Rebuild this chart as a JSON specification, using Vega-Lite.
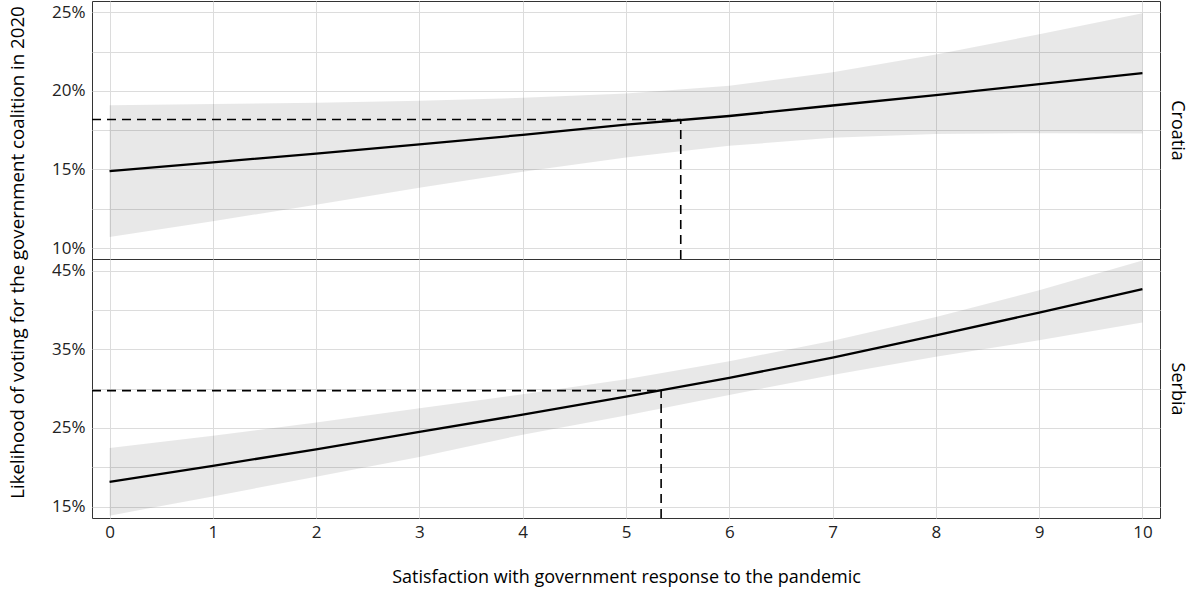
{
  "$schema": "https://vega.github.io/schema/vega-lite/v6.json",
  "background": "white",
  "padding": {"left": 9, "top": 0, "right": 28, "bottom": 2},
  "config": {
    "font": "Open Sans",
    "view": {"stroke": "#333333", "strokeWidth": 1},
    "concat": {"spacing": 0},
    "axis": {
      "labelFont": "Open Sans", "labelFontSize": 17, "labelColor": "#222222",
      "titleFont": "Open Sans", "titleFontSize": 18, "titleFontWeight": "normal", "titleColor": "#000000",
      "gridColor": "#dcdcdc", "gridWidth": 1, "domain": false, "ticks": false, "labelPadding": 7
    }
  },
  "title": {
    "text": "Likelihood of voting for the government coalition in 2020",
    "orient": "left", "anchor": "middle", "font": "Open Sans", "fontSize": 18.7,
    "fontWeight": "normal", "color": "#000000", "offset": 23, "dx": 41
  },
  "bounds": "flush",
  "spacing": 0,
  "datasets": {
    "band": [
      {"country": "Croatia", "x": 0, "lo": 10.70, "hi": 19.09, "fit": 14.89},
      {"country": "Croatia", "x": 1, "lo": 11.70, "hi": 19.16, "fit": 15.45},
      {"country": "Croatia", "x": 2, "lo": 12.76, "hi": 19.24, "fit": 16.01},
      {"country": "Croatia", "x": 3, "lo": 13.83, "hi": 19.37, "fit": 16.60},
      {"country": "Croatia", "x": 4, "lo": 14.85, "hi": 19.56, "fit": 17.20},
      {"country": "Croatia", "x": 5, "lo": 15.76, "hi": 19.83, "fit": 17.85},
      {"country": "Croatia", "x": 6, "lo": 16.50, "hi": 20.33, "fit": 18.40},
      {"country": "Croatia", "x": 7, "lo": 17.01, "hi": 21.18, "fit": 19.07},
      {"country": "Croatia", "x": 8, "lo": 17.25, "hi": 22.32, "fit": 19.73},
      {"country": "Croatia", "x": 9, "lo": 17.31, "hi": 23.60, "fit": 20.43},
      {"country": "Croatia", "x": 10, "lo": 17.29, "hi": 24.94, "fit": 21.13},
      {"country": "Serbia", "x": 0, "lo": 13.85, "hi": 22.45, "fit": 18.15},
      {"country": "Serbia", "x": 1, "lo": 16.30, "hi": 24.00, "fit": 20.19},
      {"country": "Serbia", "x": 2, "lo": 18.80, "hi": 25.70, "fit": 22.28},
      {"country": "Serbia", "x": 3, "lo": 21.30, "hi": 27.50, "fit": 24.49},
      {"country": "Serbia", "x": 4, "lo": 24.15, "hi": 29.30, "fit": 26.70},
      {"country": "Serbia", "x": 5, "lo": 26.60, "hi": 31.20, "fit": 29.00},
      {"country": "Serbia", "x": 6, "lo": 29.20, "hi": 33.50, "fit": 31.38},
      {"country": "Serbia", "x": 7, "lo": 31.75, "hi": 36.10, "fit": 33.94},
      {"country": "Serbia", "x": 8, "lo": 34.05, "hi": 39.10, "fit": 36.79},
      {"country": "Serbia", "x": 9, "lo": 36.15, "hi": 42.50, "fit": 39.68},
      {"country": "Serbia", "x": 10, "lo": 38.40, "hi": 46.30, "fit": 42.66}
    ],
    "cut": [
      {"country": "Croatia", "x": 5.53, "y": 18.18, "xmin": -0.17, "ymin": 9.3},
      {"country": "Serbia", "x": 5.34, "y": 29.75, "xmin": -0.17, "ymin": 13.55}
    ]
  },
  "vconcat": [
    {
      "width": 1068, "height": 258,
      "layer": [
        {
          "data": {"name": "band"},
          "transform": [{"filter": "datum.country == 'Croatia'"}],
          "mark": {"type": "area", "color": "#000000", "opacity": 0.09},
          "encoding": {
            "x": {"field": "x", "type": "quantitative",
                  "scale": {"domain": [-0.17, 10.17], "nice": false, "zero": false},
                  "axis": {"orient": "top", "values": [0,1,2,3,4,5,6,7,8,9,10], "labels": false, "labelPadding": 0, "title": null, "grid": true}},
            "y": {"field": "lo", "type": "quantitative",
                  "scale": {"domain": [9.3, 25.72], "nice": false, "zero": false},
                  "axis": {"values": [10,12.5,15,17.5,20,22.5,25], "labelExpr": "datum.value % 5 == 0 ? datum.value + '%' : ''", "title": null, "grid": true}},
            "y2": {"field": "hi"}
          }
        },
        {
          "data": {"name": "cut"},
          "transform": [{"filter": "datum.country == 'Croatia'"}],
          "mark": {"type": "rule", "color": "#000000", "strokeWidth": 1.6, "strokeDash": [9, 6]},
          "encoding": {
            "x": {"field": "xmin", "type": "quantitative", "title": null},
            "x2": {"field": "x"},
            "y": {"field": "y", "type": "quantitative", "axis": null}
          }
        },
        {
          "data": {"name": "cut"},
          "transform": [{"filter": "datum.country == 'Croatia'"}],
          "mark": {"type": "rule", "color": "#000000", "strokeWidth": 1.6, "strokeDash": [9, 6]},
          "encoding": {
            "x": {"field": "x", "type": "quantitative", "title": null},
            "y": {"field": "ymin", "type": "quantitative", "axis": null},
            "y2": {"field": "y"}
          }
        },
        {
          "data": {"name": "band"},
          "transform": [{"filter": "datum.country == 'Croatia'"}],
          "mark": {"type": "line", "color": "#000000", "strokeWidth": 2.3},
          "encoding": {
            "x": {"field": "x", "type": "quantitative", "title": null},
            "y": {"field": "fit", "type": "quantitative",
                  "axis": {"orient": "right", "title": "Croatia", "labels": false, "grid": false, "titleAngle": 90, "titlePadding": 11, "titleBaseline": "alphabetic"}}
          }
        }
      ],
      "resolve": {"axis": {"y": "independent"}}
    },
    {
      "width": 1068, "height": 259,
      "layer": [
        {
          "data": {"name": "band"},
          "transform": [{"filter": "datum.country == 'Serbia'"}],
          "mark": {"type": "area", "color": "#000000", "opacity": 0.09},
          "encoding": {
            "x": {"field": "x", "type": "quantitative",
                  "scale": {"domain": [-0.17, 10.17], "nice": false, "zero": false},
                  "axis": {"values": [0,1,2,3,4,5,6,7,8,9,10], "format": "d", "title": "Satisfaction with government response to the pandemic", "grid": true, "labelPadding": 6, "titlePadding": 28}},
            "y": {"field": "lo", "type": "quantitative",
                  "scale": {"domain": [13.55, 46.49], "nice": false, "zero": false},
                  "axis": {"values": [15,20,25,30,35,40,45], "labelExpr": "(datum.value - 5) % 10 == 0 ? datum.value + '%' : ''", "title": null, "grid": true}},
            "y2": {"field": "hi"}
          }
        },
        {
          "data": {"name": "cut"},
          "transform": [{"filter": "datum.country == 'Serbia'"}],
          "mark": {"type": "rule", "color": "#000000", "strokeWidth": 1.6, "strokeDash": [9, 6]},
          "encoding": {
            "x": {"field": "xmin", "type": "quantitative"},
            "x2": {"field": "x"},
            "y": {"field": "y", "type": "quantitative", "axis": null}
          }
        },
        {
          "data": {"name": "cut"},
          "transform": [{"filter": "datum.country == 'Serbia'"}],
          "mark": {"type": "rule", "color": "#000000", "strokeWidth": 1.6, "strokeDash": [9, 6]},
          "encoding": {
            "x": {"field": "x", "type": "quantitative"},
            "y": {"field": "ymin", "type": "quantitative", "axis": null},
            "y2": {"field": "y"}
          }
        },
        {
          "data": {"name": "band"},
          "transform": [{"filter": "datum.country == 'Serbia'"}],
          "mark": {"type": "line", "color": "#000000", "strokeWidth": 2.3, "clip": true},
          "encoding": {
            "x": {"field": "x", "type": "quantitative"},
            "y": {"field": "fit", "type": "quantitative",
                  "axis": {"orient": "right", "title": "Serbia", "labels": false, "grid": false, "titleAngle": 90, "titlePadding": 11, "titleBaseline": "alphabetic"}}
          }
        }
      ],
      "resolve": {"axis": {"y": "independent"}}
    }
  ]
}
